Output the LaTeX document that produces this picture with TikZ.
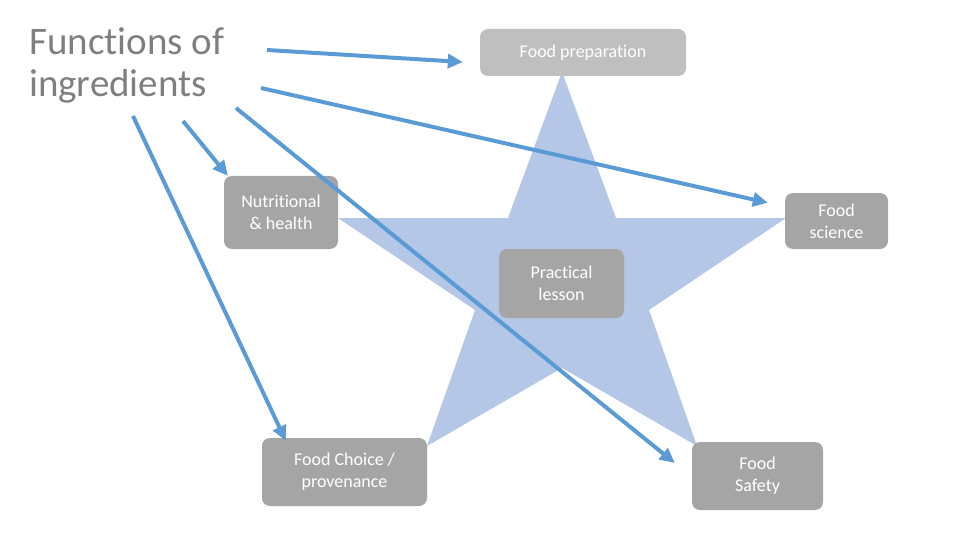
\documentclass[tikz,border=0pt]{standalone}
\usepackage{fontspec}
\setmainfont{Carlito}[Ligatures=NoCommon]
\usetikzlibrary{arrows.meta}

\definecolor{starblue}{RGB}{180,199,231}
\definecolor{arrowblue}{RGB}{91,155,213}
\definecolor{boxgray}{RGB}{165,165,165}
\definecolor{boxlight}{RGB}{191,191,191}
\definecolor{titlegray}{RGB}{127,127,127}

\begin{document}
\begin{tikzpicture}[x=1pt, y=-1pt,
		box/.style={fill=boxgray, rounded corners=8pt, text=white, align=center,
				inner sep=0pt, font=\fontsize{18}{22}\selectfont},
		link/.style={draw=arrowblue, line width=4pt, -{Triangle[length=15pt, width=14pt]}}]

		\useasboundingbox (0,0) rectangle (960,540);

		% Star behind the boxes
		\fill[starblue] (562,72) -- (616,218) -- (786,218) -- (649,310) -- (697,446)
		-- (562,368) -- (427,446) -- (475,310) -- (338,218) -- (508,218) -- cycle;

		% Title
		\node[anchor=north west, inner sep=0pt, align=left, text=titlegray,
			font=\fontsize{39}{42}\selectfont] (title) at (29,27) {Functions of\\ingredients};

		% Boxes
		\node[box, fill=boxlight, minimum width=206pt, minimum height=47pt] (prep) at (583,52.5) {Food preparation};
		\node[box, minimum width=114pt, minimum height=73pt] (nutri) at (281,212.5) {Nutritional\\\& health};
		\node[box, minimum width=103pt, minimum height=56pt] (sci) at (836.5,221) {Food\\science};
		\node[box, minimum width=125pt, minimum height=69pt] (lesson) at (561.5,283.5) {Practical\\lesson};
		\node[box, minimum width=165pt, minimum height=68pt] (choice) at (344.5,472) {Food Choice /\\provenance};
		\node[box, minimum width=131pt, minimum height=68pt] (safety) at (757.5,476) {Food\\Safety};

		% Arrow starts near the title
		\coordinate (s1) at (267,50);
		\coordinate (s2) at (261,88);
		\coordinate (s3) at (183,121);
		\coordinate (s4) at (236,108);
		\coordinate (s5) at (133,116);

		% Arrows
		\draw[link] (s1) -- ([shift={(-17,9.5)}]prep.west);
		\draw[link] (s2) -- ([shift={(-17,10)}]sci.north west);
		\draw[link] (s3) -- ([shift={(4,0)}]nutri.north west);
		\draw[link] (s4) -- ([shift={(-17,-13)}]safety.west);
		\draw[link] (s5) -- ([shift={(24,3)}]choice.north west);

	\end{tikzpicture}
\end{document}
